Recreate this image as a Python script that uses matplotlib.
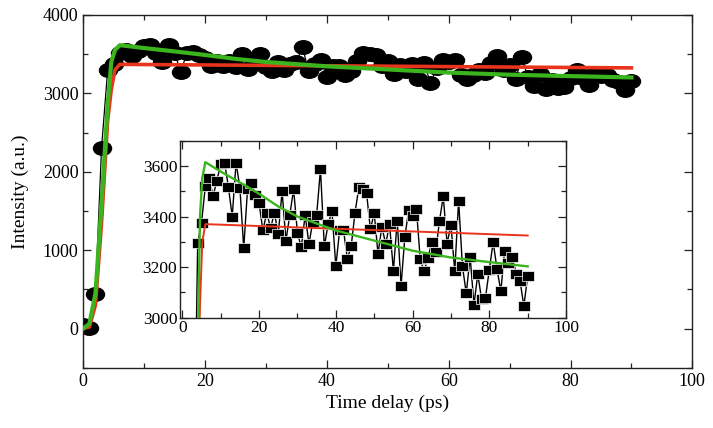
import numpy as np
import matplotlib.pyplot as plt
from matplotlib.path import Path
from matplotlib.transforms import Affine2D
from matplotlib.ticker import MultipleLocator

plt.rcParams['font.family'] = ['Liberation Serif', 'DejaVu Serif']

# measured intensity, one point per ps
delay = np.arange(0, 91)
intensity = [50, 10, 440, 2306,
             3295, 3376, 3520, 3553, 3481, 3541, 3608, 3613, 3518, 3400,
             3613, 3514, 3275, 3510, 3533, 3484, 3452, 3345, 3415, 3354,
             3415, 3330, 3500, 3305, 3406, 3508, 3334, 3279, 3405, 3292,
             3380, 3406, 3587, 3282, 3371, 3421, 3203, 3347, 3347, 3233,
             3282, 3415, 3515, 3508, 3495, 3350, 3413, 3253, 3360, 3291,
             3370, 3186, 3383, 3127, 3321, 3426, 3404, 3430, 3232, 3183,
             3236, 3298, 3258, 3381, 3480, 3292, 3368, 3183, 3463, 3203,
             3096, 3242, 3052, 3172, 3072, 3079, 3190, 3299, 3194, 3105,
             3265, 3216, 3240, 3174, 3147, 3046, 3164]

# fit curves
red_t = [0, 1, 2, 3, 4, 4.6, 5.2, 6, 90]
red_y = [0, 20, 300, 1350, 2650, 3050, 3300, 3370, 3325]
green_t = [0, 1, 2, 3, 4, 4.6, 5.2, 6, 10, 15, 20, 25, 30, 40, 50, 60, 70, 80, 90]
green_y = [0, 60, 450, 1590, 2850, 3400, 3553, 3615, 3578, 3535, 3490,
           3440, 3400, 3345, 3305, 3265, 3238, 3220, 3203]

red = '#e8341c'
green = '#3ab51e'

#elliptic and rectangular markers
ellipse = Path.unit_circle().transformed(Affine2D().scale(1.0, 0.75))
rect = Path([(-1, -0.78), (1, -0.78), (1, 0.78), (-1, 0.78), (-1, -0.78)],
            [Path.MOVETO, Path.LINETO, Path.LINETO, Path.LINETO, Path.CLOSEPOLY])


def style_axes(ax, size):
    ax.tick_params(which='both', direction='in', top=True, right=True,
                   labelsize=size, width=0.9, color='#222222', labelcolor='black')
    ax.tick_params(which='major', length=6)
    ax.tick_params(which='minor', length=3.5)
    for s in ax.spines.values():
        s.set_linewidth(1.0)
        s.set_color('#222222')


fig = plt.figure(figsize=(7.13, 4.28), dpi=100)
ax = fig.add_axes([0.1168, 0.1409, 0.8542, 0.8241])

ax.plot(delay, intensity, color='black', lw=0.9, marker=ellipse,
        markersize=13, markerfacecolor='black', markeredgecolor='black', zorder=2)
ax.plot(red_t, red_y, color=red, lw=2.6, zorder=3)
ax.plot(green_t, green_y, color=green, lw=3.0, zorder=4)

ax.set_xlim(0, 100)
ax.set_ylim(-500, 4000)
ax.xaxis.set_major_locator(MultipleLocator(20))
ax.xaxis.set_minor_locator(MultipleLocator(10))
ax.yaxis.set_major_locator(MultipleLocator(1000))
ax.yaxis.set_minor_locator(MultipleLocator(500))
style_axes(ax, 13)
ax.set_xlabel('Time delay (ps)', fontsize=14)
ax.set_ylabel('Intensity (a.u.)', fontsize=14, labelpad=10)

#inset with the zoomed data
ins = fig.add_axes([0.2525, 0.2577, 0.5414, 0.4136])
ins.plot(delay, intensity, color='black', lw=1.0, marker=rect, markersize=8.5,
         markerfacecolor='black', markeredgecolor='white', markeredgewidth=0.5, zorder=2)
ins.plot(red_t, red_y, color=red, lw=1.4, zorder=3)
ins.plot(green_t, green_y, color=green, lw=1.7, zorder=4)
ins.set_xlim(-0.6, 100)
ins.set_ylim(3000, 3700)
ins.xaxis.set_major_locator(MultipleLocator(20))
ins.xaxis.set_minor_locator(MultipleLocator(10))
ins.yaxis.set_major_locator(MultipleLocator(200))
ins.yaxis.set_minor_locator(MultipleLocator(100))
style_axes(ins, 12.5)
ins.tick_params(which='both', pad=2)

fig.savefig('out.png', dpi=100)
